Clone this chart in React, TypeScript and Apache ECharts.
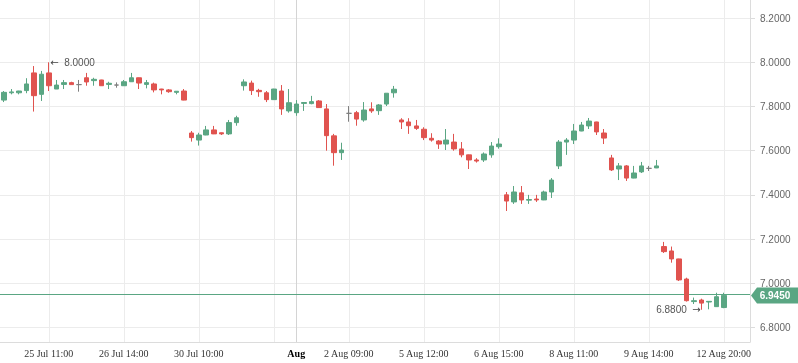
import React, { useEffect, useRef } from "react";
import * as echarts from "echarts";

// [open, close, low, high]
const candles: number[][] = [
  [7.829, 7.864, 7.82, 7.87],
  [7.862, 7.866, 7.855, 7.879],
  [7.862, 7.87, 7.855, 7.871],
  [7.872, 7.902, 7.86, 7.928],
  [7.952, 7.849, 7.777, 7.983],
  [7.855, 7.946, 7.825, 7.961],
  [7.952, 7.894, 7.87, 8.0],
  [7.879, 7.897, 7.879, 7.92],
  [7.9, 7.908, 7.879, 7.92],
  [7.908, 7.899, 7.899, 7.912],
  [7.899, 7.899, 7.867, 7.92],
  [7.93, 7.911, 7.894, 7.952],
  [7.917, 7.923, 7.894, 7.93],
  [7.92, 7.894, 7.893, 7.921],
  [7.9, 7.905, 7.879, 7.912],
  [7.897, 7.897, 7.885, 7.909],
  [7.894, 7.912, 7.893, 7.92],
  [7.912, 7.93, 7.911, 7.952],
  [7.93, 7.906, 7.879, 7.931],
  [7.9, 7.908, 7.882, 7.92],
  [7.902, 7.875, 7.864, 7.908],
  [7.879, 7.875, 7.855, 7.88],
  [7.875, 7.867, 7.862, 7.879],
  [7.864, 7.869, 7.855, 7.87],
  [7.87, 7.829, 7.828, 7.879],
  [7.68, 7.659, 7.641, 7.689],
  [7.648, 7.671, 7.623, 7.681],
  [7.671, 7.694, 7.67, 7.712],
  [7.694, 7.676, 7.675, 7.712],
  [7.681, 7.676, 7.671, 7.682],
  [7.676, 7.727, 7.671, 7.739],
  [7.727, 7.749, 7.713, 7.758],
  [7.894, 7.911, 7.872, 7.923],
  [7.906, 7.872, 7.852, 7.917],
  [7.873, 7.867, 7.844, 7.88],
  [7.862, 7.831, 7.82, 7.87],
  [7.831, 7.879, 7.83, 7.88],
  [7.87, 7.789, 7.762, 7.897],
  [7.78, 7.817, 7.772, 7.879],
  [7.772, 7.811, 7.758, 7.829],
  [7.814, 7.818, 7.78, 7.819],
  [7.813, 7.822, 7.81, 7.848],
  [7.825, 7.795, 7.794, 7.829],
  [7.789, 7.668, 7.6, 7.811],
  [7.667, 7.591, 7.532, 7.676],
  [7.591, 7.603, 7.558, 7.636],
  [7.769, 7.769, 7.731, 7.802],
  [7.772, 7.743, 7.713, 7.78],
  [7.739, 7.784, 7.731, 7.82],
  [7.789, 7.78, 7.771, 7.819],
  [7.781, 7.807, 7.762, 7.811],
  [7.811, 7.86, 7.802, 7.86],
  [7.862, 7.878, 7.84, 7.893],
  [7.739, 7.73, 7.698, 7.747],
  [7.73, 7.713, 7.676, 7.747],
  [7.712, 7.701, 7.694, 7.739],
  [7.697, 7.659, 7.648, 7.706],
  [7.656, 7.648, 7.641, 7.679],
  [7.644, 7.63, 7.608, 7.648],
  [7.63, 7.648, 7.603, 7.698],
  [7.639, 7.608, 7.6, 7.676],
  [7.608, 7.581, 7.57, 7.639],
  [7.581, 7.558, 7.517, 7.582],
  [7.558, 7.553, 7.546, 7.566],
  [7.558, 7.585, 7.549, 7.592],
  [7.581, 7.621, 7.568, 7.639],
  [7.618, 7.63, 7.609, 7.656],
  [7.4, 7.372, 7.327, 7.413],
  [7.368, 7.413, 7.359, 7.44],
  [7.409, 7.377, 7.359, 7.44],
  [7.376, 7.379, 7.359, 7.4],
  [7.381, 7.377, 7.368, 7.4],
  [7.377, 7.413, 7.376, 7.419],
  [7.413, 7.467, 7.386, 7.476],
  [7.531, 7.639, 7.517, 7.648],
  [7.639, 7.648, 7.581, 7.657],
  [7.648, 7.689, 7.63, 7.721],
  [7.689, 7.716, 7.688, 7.73],
  [7.712, 7.734, 7.698, 7.748],
  [7.73, 7.685, 7.671, 7.731],
  [7.68, 7.657, 7.63, 7.698],
  [7.567, 7.513, 7.508, 7.581],
  [7.517, 7.531, 7.467, 7.544],
  [7.531, 7.476, 7.463, 7.535],
  [7.476, 7.499, 7.475, 7.531],
  [7.504, 7.531, 7.499, 7.549],
  [7.52, 7.52, 7.508, 7.531],
  [7.522, 7.531, 7.521, 7.558],
  [7.166, 7.143, 7.137, 7.187],
  [7.146, 7.11, 7.093, 7.166],
  [7.11, 7.015, 7.01, 7.111],
  [7.019, 6.921, 6.917, 7.025],
  [6.917, 6.921, 6.906, 6.935],
  [6.924, 6.91, 6.88, 6.93],
  [6.915, 6.918, 6.882, 6.918],
  [6.894, 6.939, 6.893, 6.957],
  [6.89, 6.945, 6.887, 6.957],
];

const slotCount = 100; // candles plus empty slots on the right
const tickLabels: [number, string][] = [
  [6, "25 Jul 11:00"],
  [16, "26 Jul 14:00"],
  [26, "30 Jul 10:00"],
  [36, ""],
  [39, "Aug"],
  [46, "2 Aug 09:00"],
  [56, "5 Aug 12:00"],
  [66, "6 Aug 15:00"],
  [76, "8 Aug 11:00"],
  [86, "9 Aug 14:00"],
  [96, "12 Aug 20:00"],
];
const monthIndex = 39;
const yMin = 6.734;
const yMax = 8.282;
const lastPrice = 6.945;

const UP = "#5aa683";
const DOWN = "#e0534f";
const DOJI = "#7f7f7f";

export default function App() {
  const ref = useRef<HTMLDivElement>(null);
  useEffect(() => {
    if (!ref.current) return;
    const chart = echarts.init(ref.current, null, { renderer: "svg" });
    const cats = Array.from({ length: slotCount }, (_, i) => String(i));
    const labelAt = new Map<number, string>(tickLabels);
    const data = candles.map((d) =>
      d[0] === d[1]
        ? {
            value: d,
            itemStyle: {
              color: DOJI,
              color0: DOJI,
              borderColor: DOJI,
              borderColor0: DOJI,
              borderColorDoji: DOJI,
            },
          }
        : { value: d }
    );
    const vLines = tickLabels.map(([i]) => ({
      xAxis: i,
      lineStyle: { color: i === monthIndex ? "#d4d4d4" : "#ececec", width: 1, type: "solid" },
    }));
    const arrowRich = {
      a: { fontFamily: "DejaVu Sans", fontSize: 10, color: "#444" },
    };
    chart.setOption({
      animation: false,
      grid: { left: 0, right: 48, top: 0, bottom: 21 },
      xAxis: {
        type: "category",
        data: cats,
        boundaryGap: true,
        axisLine: { lineStyle: { color: "#dcdcdc" } },
        axisTick: {
          alignWithLabel: true,
          interval: (i: number) => labelAt.has(i),
          length: 4,
          lineStyle: { color: "#dcdcdc" },
        },
        axisLabel: {
          interval: (i: number) => !!labelAt.get(i),
          formatter: (_v: string, i: number) =>
            i === monthIndex ? "{b|" + labelAt.get(i) + "}" : labelAt.get(i) || "",
          fontFamily: "Liberation Serif",
          fontSize: 10,
          color: "#333",
          margin: 6,
          rich: {
            b: { fontFamily: "Liberation Serif", fontSize: 10, fontWeight: "bold", color: "#000" },
          },
        },
        splitLine: { show: false },
      },
      yAxis: {
        type: "value",
        position: "right",
        min: yMin,
        max: yMax,
        splitNumber: 7,
        scale: true,
        axisLine: { show: true, lineStyle: { color: "#dcdcdc" } },
        axisTick: { show: true, length: 5, lineStyle: { color: "#dcdcdc" } },
        axisLabel: {
          showMinLabel: false,
          showMaxLabel: false,
          formatter: (v: number) => v.toFixed(4),
          color: "#666",
          fontSize: 10,
          fontFamily: "Liberation Sans",
          margin: 10,
        },
        splitLine: {
          lineStyle: { color: "#ececec" },
          showMinLine: false,
          showMaxLine: false,
        },
      },
      series: [
        {
          type: "candlestick",
          data,
          barWidth: 5,
          z: 2,
          itemStyle: {
            color: UP,
            color0: DOWN,
            borderColor: UP,
            borderColor0: DOWN,
            borderColorDoji: DOJI,
            borderWidth: 1,
          },
          markLine: {
            silent: true,
            z: 1,
            symbol: ["none", "none"],
            label: { show: false },
            data: [
              ...vLines,
              { yAxis: lastPrice, lineStyle: { color: UP, width: 1, type: "solid" } },
            ],
          },
          markPoint: {
            symbol: "rect",
            symbolSize: 1,
            itemStyle: { color: "rgba(0,0,0,0)" },
            label: { color: "#555", fontSize: 10, fontFamily: "Liberation Sans", rich: arrowRich },
            data: [
              {
                type: "max",
                valueDim: "highest",
                label: {
                  position: "right",
                  distance: 1,
                  formatter: (p: any) => "{a|\u2190}  " + Number(p.value).toFixed(4),
                },
              },
              {
                type: "min",
                valueDim: "lowest",
                label: {
                  position: "left",
                  distance: 0,
                  formatter: (p: any) => Number(p.value).toFixed(4) + "  {a|\u2192}",
                },
              },
            ],
          },
        },
      ],
    });
    const py = chart.convertToPixel({ yAxisIndex: 0 }, lastPrice) as number;
    chart.setOption({
      graphic: [
        {
          type: "polygon",
          shape: {
            points: [
              [751, py],
              [757, py - 8],
              [798, py - 8],
              [798, py + 8],
              [757, py + 8],
            ],
          },
          style: { fill: UP },
          z: 10,
        },
        {
          type: "text",
          x: 775,
          y: py,
          style: {
            text: lastPrice.toFixed(4),
            fill: "#fff",
            fontSize: 10,
            fontWeight: "bold",
            fontFamily: "Liberation Sans",
            align: "center",
            verticalAlign: "middle",
          },
          z: 11,
        },
      ],
    });
    return () => chart.dispose();
  }, []);
  return (
    <div
      ref={ref}
      style={{ position: "fixed", left: 0, top: 0, width: 798, height: 363 }}
    />
  );
}
